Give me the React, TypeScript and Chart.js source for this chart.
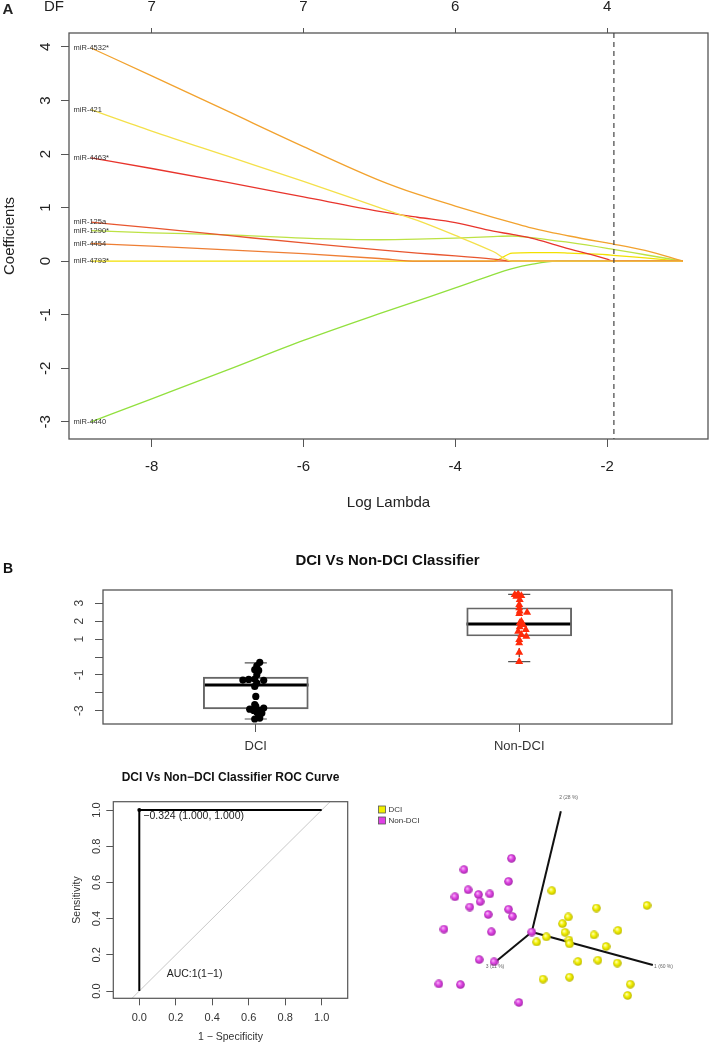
import React, { useEffect, useRef } from 'react';
import { Chart, registerables } from 'chart.js';

Chart.register(...registerables);

const FONT = '"Liberation Sans", Arial, Helvetica, sans-serif';

// ---------------- Panel A : lasso coefficient paths ----------------
const LOG_LAMBDA = [-8.8, -8, -7, -6, -5, -4.5, -4, -3.5, -3.25, -3, -2.67, -2.5, -2, -1.92, -1.5, -1.0];
const COEF_MIR4532 = [3.98, 3.46, 2.8, 2.14, 1.51, 1.25, 1.03, 0.82, 0.72, 0.62, 0.52, 0.47, 0.34, 0.32, 0.2, 0];
const COEF_MIR421 = [2.83, 2.43, 1.96, 1.49, 1.0, 0.76, 0.48, 0.18, 0, 0, 0, 0, 0, 0, 0, 0];
const COEF_MIR4463 = [1.93, 1.73, 1.47, 1.2, 0.93, 0.82, 0.72, 0.56, 0.5, 0.43, 0.3, 0.23, 0.04, 0, 0, 0];
const COEF_MIR125A = [0.73, 0.62, 0.48, 0.34, 0.21, 0.15, 0.1, 0.04, 0, 0, 0, 0, 0, 0, 0, 0];
const COEF_MIR1290 = [0.57, 0.53, 0.49, 0.43, 0.4, 0.41, 0.43, 0.46, 0.47, 0.44, 0.38, 0.35, 0.24, 0.22, 0.12, 0];
const COEF_MIR4454 = [0.33, 0.28, 0.21, 0.14, 0.05, 0, 0, 0, 0, 0, 0, 0, 0, 0, 0, 0];
const COEF_MIR4793 = [0, 0, 0, 0, 0, 0, 0, 0, 0.15, 0.16, 0.16, 0.15, 0.12, 0.11, 0.06, 0];
const COEF_MIR4440 = [-3.0, -2.57, -2.03, -1.48, -0.98, -0.74, -0.5, -0.25, -0.14, -0.06, 0, 0, 0, 0, 0, 0];
const MIR_NAMES = ['miR-4532*', 'miR-421', 'miR-4463*', 'miR-125a', 'miR-1290*', 'miR-4454', 'miR-4793*', 'miR-4440'];
const MIR_COLORS = ['#F2A22E', '#F4E04A', '#E8342C', '#E8552E', '#BDE244', '#EE7E34', '#F2E000', '#92E03E'];
const X_TICKS_A = [-8, -6, -4, -2];
const DF_LABELS = ['7', '7', '6', '4'];
const Y_TICKS_A = [-3, -2, -1, 0, 1, 2, 3, 4];
const LAMBDA_MIN_LOG = -1.91;

// ---------------- Panel B : classifier boxplot ----------------
const BOX_CATEGORIES = ['DCI', 'Non-DCI'];
const BOX_LOWER = [-3.46, -0.26];
const BOX_Q1 = [-2.9, 1.17];
const BOX_MEDIAN = [-1.56, 1.84];
const BOX_Q3 = [-1.12, 2.75];
const BOX_UPPER = [-0.33, 3.5];
const DCI_SCORES = [-0.3, -0.49, -0.71, -0.75, -0.99, -1.23, -1.29, -1.25, -1.3, -1.45, -1.64, -2.2, -2.66, -2.76, -2.91, -2.98, -2.85, -2.98, -3.09, -3.13, -3.32, -3.46, -3.41];
const DCI_JITTER = [0.015, 0.004, -0.004, 0.011, 0.004, -0.004, -0.049, -0.027, 0.03, 0.004, -0.004, 0, -0.004, 0, -0.023, -0.008, 0.03, 0.015, 0.004, 0.023, 0.011, -0.004, 0.015];
const NONDCI_SCORES = [3.48, 3.52, 3.42, 3.38, 3.2, 2.92, 2.74, 2.55, 2.49, 2.42, 1.99, 1.9, 1.8, 1.68, 1.53, 1.43, 1.25, 1.15, 0.97, 0.78, 0.26, -0.26];
const NONDCI_JITTER = [-0.017, -0.004, 0.008, -0.011, 0.002, 0, 0, 0.002, 0.03, 0, 0.008, 0.002, 0.015, 0.002, 0.025, -0.004, 0.008, 0.027, 0, 0, 0, 0];
const Y_TICKS_B = [-3, -2, -1, 0, 1, 2, 3];
const Y_LABELS_B = ['-3', '', '-1', '', '1', '2', '3'];

// ---------------- ROC curve ----------------
const ROC_FPR = [0, 0, 1];
const ROC_TPR = [0, 1, 1];
const BEST_FPR = 0;
const BEST_TPR = 1;
const BEST_THRESHOLD = '\u22120.324';
const AUC_TEXT = 'AUC:1(1\u22121)';
const ROC_TICKS = [0, 0.2, 0.4, 0.6, 0.8, 1.0];

// ---------------- PCA (projected 3D) ----------------
const PCA_DCI_X = [20.7, 119, 66.7, 37.7, 31.7, 34.3, 89, 64.3, 15, 5, 38.3, 39, 76.7, 47.7, 68.3, 88.3, 11.7, 39, 101.7, 99];
const PCA_DCI_Y = [43, 27.7, 25, 15.7, 8.7, -0.3, 1.7, -3, -5, -10.3, -8.3, -12.3, -15, -30.7, -29.3, -32.3, -49, -47, -54.3, -66];
const PCA_NON_X = [-21, -70, -24, -65.7, -43.3, -55, -79.3, -53.3, -64, -24, -20, -45, -90.7, -41.7, 0, -54.3, -39, -96, -73.7, -13.3];
const PCA_NON_Y = [76.7, 65, 52.7, 44, 39.7, 39, 36.7, 31.7, 26, 23.7, 16.3, 18.3, 3, 0.3, 0, -28.7, -31, -54, -54.7, -73.3];
const PCA_AXIS_END_X = [125, 30, -38.3];
const PCA_AXIS_END_Y = [-34.3, 125.7, -31.7];
const PCA_AXIS_LABELS = ['1 (60 %)', '2 (28 %)', '3 (11 %)'];
const PCA_LABEL_X = [136, 38, -38];
const PCA_LABEL_Y = [-36.5, 140, -36];

const baseOpts = {
  animation: false as const,
  responsive: false,
  devicePixelRatio: 1,
  events: [] as any[],
};

function rotatedText(ctx: CanvasRenderingContext2D, text: string, x: number, y: number) {
  ctx.save();
  ctx.translate(x, y);
  ctx.rotate(-Math.PI / 2);
  ctx.fillText(text, 0, 0);
  ctx.restore();
}

function makeLasso(canvas: HTMLCanvasElement) {
  const series = [COEF_MIR4532, COEF_MIR421, COEF_MIR4463, COEF_MIR125A, COEF_MIR1290, COEF_MIR4454, COEF_MIR4793, COEF_MIR4440];
  const datasets = series.map((s, k) => ({
    label: MIR_NAMES[k],
    data: LOG_LAMBDA.map((x, i) => ({ x, y: s[i] })),
    borderColor: MIR_COLORS[k],
    borderWidth: 1.3,
    pointRadius: 0,
    cubicInterpolationMode: 'monotone' as const,
    fill: false,
  }));
  const plugin = {
    id: 'lassoDecor',
    afterDraw(chart: any) {
      const { ctx, chartArea: ca, scales } = chart;
      const xs = scales.x;
      const ys = scales.y;
      ctx.save();
      ctx.strokeStyle = '#555';
      ctx.lineWidth = 1.3;
      ctx.strokeRect(ca.left, ca.top, ca.right - ca.left, ca.bottom - ca.top);
      const xd = xs.getPixelForValue(LAMBDA_MIN_LOG);
      ctx.strokeStyle = '#444';
      ctx.lineWidth = 1.2;
      ctx.setLineDash([5, 4]);
      ctx.beginPath();
      ctx.moveTo(xd, ca.top);
      ctx.lineTo(xd, ca.bottom);
      ctx.stroke();
      ctx.setLineDash([]);
      ctx.fillStyle = '#222';
      ctx.font = `15px ${FONT}`;
      ctx.textAlign = 'center';
      ctx.textBaseline = 'middle';
      for (const t of ys.ticks) {
        rotatedText(ctx, String(t.value), ca.left - 23, ys.getPixelForValue(t.value));
      }
      rotatedText(ctx, 'Coefficients', 10, (ca.top + ca.bottom) / 2);
      ctx.fillText('Log Lambda', (ca.left + ca.right) / 2, 503);
      ctx.fillText('DF', 54, 7);
      ctx.font = `bold 15px ${FONT}`;
      ctx.fillText('A', 8, 10);
      ctx.font = `7.5px ${FONT}`;
      ctx.textAlign = 'left';
      ctx.fillStyle = '#333';
      series.forEach((s, k) => {
        ctx.fillText(MIR_NAMES[k], xs.getPixelForValue(-9.03), ys.getPixelForValue(s[0]));
      });
      ctx.restore();
    },
  };
  const tickGrid = { drawOnChartArea: false, drawTicks: true, tickLength: 8, color: '#555', lineWidth: 1, offset: false };
  return new Chart(canvas, {
    type: 'line',
    data: { datasets },
    options: {
      ...baseOpts,
      layout: { padding: { left: 0, right: 1, top: 0, bottom: 0 } },
      plugins: { legend: { display: false }, tooltip: { enabled: false } },
      scales: {
        x: {
          type: 'linear', position: 'bottom', min: -9.09, max: -0.67,
          afterBuildTicks: (s: any) => { s.ticks = X_TICKS_A.map((v) => ({ value: v })); },
          afterFit: (s: any) => { s.height = 86; },
          grid: tickGrid,
          border: { display: false },
          ticks: { color: '#222', font: { family: FONT, size: 15 }, padding: 11, maxRotation: 0, autoSkip: false },
        },
        xTop: {
          type: 'linear', position: 'top', min: -9.09, max: -0.67,
          afterBuildTicks: (s: any) => { s.ticks = X_TICKS_A.map((v) => ({ value: v })); },
          afterFit: (s: any) => { s.height = 33; },
          grid: { ...tickGrid, tickLength: 5 },
          border: { display: false },
          ticks: {
            color: '#222', font: { family: FONT, size: 15 }, padding: 12, maxRotation: 0, autoSkip: false,
            callback: (v: any) => DF_LABELS[X_TICKS_A.indexOf(Number(v))] ?? '',
          },
        },
        y: {
          type: 'linear', position: 'left', min: -3.32, max: 4.26,
          afterBuildTicks: (s: any) => { s.ticks = Y_TICKS_A.map((v) => ({ value: v })); },
          afterFit: (s: any) => { s.width = 69; },
          grid: tickGrid,
          border: { display: false },
          ticks: { display: false },
        },
      },
    } as any,
    plugins: [plugin],
  });
}

function makeBox(canvas: HTMLCanvasElement) {
  const plugin = {
    id: 'boxDecor',
    beforeDatasetsDraw(chart: any) {
      const { ctx, scales } = chart;
      const xs = scales.x;
      const ys = scales.y;
      ctx.save();
      BOX_CATEGORIES.forEach((_, i) => {
        const pos = i + 1;
        const xc = xs.getPixelForValue(pos);
        const cap = xs.getPixelForValue(pos + 0.042) - xc;
        const half = xs.getPixelForValue(pos + 0.2) - xc;
        ctx.strokeStyle = '#111';
        ctx.lineWidth = 1;
        ctx.setLineDash([3, 3]);
        ctx.beginPath();
        ctx.moveTo(xc, ys.getPixelForValue(BOX_Q3[i]));
        ctx.lineTo(xc, ys.getPixelForValue(BOX_UPPER[i]));
        ctx.moveTo(xc, ys.getPixelForValue(BOX_Q1[i]));
        ctx.lineTo(xc, ys.getPixelForValue(BOX_LOWER[i]));
        ctx.stroke();
        ctx.setLineDash([]);
        ctx.strokeStyle = '#555';
        ctx.lineWidth = 1.2;
        ctx.beginPath();
        ctx.moveTo(xc - cap, ys.getPixelForValue(BOX_UPPER[i]));
        ctx.lineTo(xc + cap, ys.getPixelForValue(BOX_UPPER[i]));
        ctx.moveTo(xc - cap, ys.getPixelForValue(BOX_LOWER[i]));
        ctx.lineTo(xc + cap, ys.getPixelForValue(BOX_LOWER[i]));
        ctx.stroke();
        ctx.strokeStyle = '#000';
        ctx.lineWidth = 3;
        ctx.beginPath();
        ctx.moveTo(xc - half, ys.getPixelForValue(BOX_MEDIAN[i]));
        ctx.lineTo(xc + half, ys.getPixelForValue(BOX_MEDIAN[i]));
        ctx.stroke();
      });
      ctx.restore();
    },
    afterDraw(chart: any) {
      const { ctx, chartArea: ca, scales } = chart;
      const ys = scales.y;
      ctx.save();
      ctx.strokeStyle = '#555';
      ctx.lineWidth = 1.3;
      ctx.strokeRect(ca.left, ca.top, ca.right - ca.left, ca.bottom - ca.top);
      ctx.fillStyle = '#444';
      ctx.font = `12px ${FONT}`;
      ctx.textAlign = 'center';
      ctx.textBaseline = 'middle';
      Y_TICKS_B.forEach((v, i) => {
        if (Y_LABELS_B[i]) rotatedText(ctx, Y_LABELS_B[i], ca.left - 23, ys.getPixelForValue(v));
      });
      ctx.fillStyle = '#111';
      ctx.font = `bold 15px ${FONT}`;
      ctx.fillText('DCI Vs Non-DCI Classifier', (ca.left + ca.right) / 2, 21);
      ctx.font = `bold 14px ${FONT}`;
      ctx.fillText('B', 8, 29);
      ctx.restore();
    },
  };
  const tickGrid = { drawOnChartArea: false, drawTicks: true, tickLength: 8, color: '#555', lineWidth: 1, offset: false };
  return new Chart(canvas, {
    type: 'scatter',
    data: {
      datasets: [
        {
          type: 'scatter',
          label: 'DCI',
          data: DCI_SCORES.map((v, i) => ({ x: 1 + DCI_JITTER[i], y: v })),
          pointStyle: 'circle',
          pointRadius: 3.6,
          backgroundColor: '#000',
          borderColor: '#000',
          borderWidth: 0,
          order: 0,
        },
        {
          type: 'scatter',
          label: 'Non-DCI',
          data: NONDCI_SCORES.map((v, i) => ({ x: 2 + NONDCI_JITTER[i], y: v })),
          pointStyle: 'triangle',
          pointRadius: 4.6,
          backgroundColor: '#FF2A0A',
          borderColor: '#FF2A0A',
          borderWidth: 0,
          order: 0,
        },
        {
          type: 'bar',
          label: 'box',
          data: BOX_CATEGORIES.map((_, i) => ({ x: i + 1, y: [BOX_Q1[i], BOX_Q3[i]] })),
          backgroundColor: 'rgba(255,255,255,0)',
          borderColor: '#666',
          borderWidth: 1.3,
          borderSkipped: false,
          barThickness: 105,
          order: 5,
        },
      ],
    } as any,
    options: {
      ...baseOpts,
      layout: { padding: { left: 0, right: 37, top: 50, bottom: 0 } },
      plugins: { legend: { display: false }, tooltip: { enabled: false } },
      scales: {
        x: {
          type: 'linear', position: 'bottom', min: 0.42, max: 2.58, offset: false,
          afterBuildTicks: (s: any) => { s.ticks = BOX_CATEGORIES.map((_, i) => ({ value: i + 1 })); },
          afterFit: (s: any) => { s.height = 36; },
          grid: tickGrid,
          border: { display: false },
          ticks: {
            color: '#333', font: { family: FONT, size: 13 }, padding: 7, maxRotation: 0, autoSkip: false,
            callback: (v: any) => BOX_CATEGORIES[Number(v) - 1] ?? '',
          },
        },
        y: {
          type: 'linear', position: 'left', min: -3.74, max: 3.74,
          afterBuildTicks: (s: any) => { s.ticks = Y_TICKS_B.map((v) => ({ value: v })); },
          afterFit: (s: any) => { s.width = 103; },
          grid: tickGrid,
          border: { display: false },
          ticks: { display: false },
        },
      },
    } as any,
    plugins: [plugin],
  });
}

function makeRoc(canvas: HTMLCanvasElement) {
  const plugin = {
    id: 'rocDecor',
    afterDraw(chart: any) {
      const { ctx, chartArea: ca, scales } = chart;
      const xs = scales.x;
      const ys = scales.y;
      ctx.save();
      ctx.strokeStyle = '#555';
      ctx.lineWidth = 1.2;
      ctx.strokeRect(ca.left, ca.top, ca.right - ca.left, ca.bottom - ca.top);
      ctx.fillStyle = '#333';
      ctx.font = `11px ${FONT}`;
      ctx.textAlign = 'center';
      ctx.textBaseline = 'middle';
      for (const t of ys.ticks) {
        rotatedText(ctx, Number(t.value).toFixed(1), ca.left - 16, ys.getPixelForValue(t.value));
      }
      ctx.font = `10.5px ${FONT}`;
      rotatedText(ctx, 'Sensitivity', ca.left - 36, (ca.top + ca.bottom) / 2);
      ctx.fillText('1 \u2212 Specificity', (ca.left + ca.right) / 2, 277);
      ctx.font = `bold 12px ${FONT}`;
      ctx.fillStyle = '#111';
      ctx.fillText('DCI Vs Non\u2212DCI Classifier ROC Curve', (ca.left + ca.right) / 2, 18);
      ctx.font = `10.5px ${FONT}`;
      ctx.textAlign = 'left';
      ctx.fillStyle = '#222';
      ctx.fillText(`${BEST_THRESHOLD} (${(1 - BEST_FPR).toFixed(3)}, ${BEST_TPR.toFixed(3)})`, xs.getPixelForValue(0.022), ys.getPixelForValue(0.967));
      ctx.fillText(AUC_TEXT, xs.getPixelForValue(0.15), ys.getPixelForValue(0.096));
      ctx.restore();
    },
  };
  const tickGrid = { drawOnChartArea: false, drawTicks: true, tickLength: 7, color: '#555', lineWidth: 1, offset: false };
  return new Chart(canvas, {
    type: 'scatter',
    data: {
      datasets: [
        {
          label: 'best',
          data: [{ x: BEST_FPR, y: BEST_TPR }],
          pointRadius: 2,
          backgroundColor: '#000',
          borderWidth: 0,
          showLine: false,
        },
        {
          label: 'roc',
          data: ROC_FPR.map((x, i) => ({ x, y: ROC_TPR[i] })),
          showLine: true,
          borderColor: '#000',
          borderWidth: 2,
          pointRadius: 0,
          tension: 0,
        },
        {
          label: 'chance',
          data: [{ x: -0.2, y: -0.2 }, { x: 1.2, y: 1.2 }],
          showLine: true,
          borderColor: '#C8C8C8',
          borderWidth: 1,
          pointRadius: 0,
        },
      ],
    } as any,
    options: {
      ...baseOpts,
      layout: { padding: { left: 0, right: 12.3, top: 41.7, bottom: 0 } },
      plugins: { legend: { display: false }, tooltip: { enabled: false } },
      scales: {
        x: {
          type: 'linear', position: 'bottom', min: -0.1425, max: 1.1425,
          afterBuildTicks: (s: any) => { s.ticks = ROC_TICKS.map((v) => ({ value: v })); },
          afterFit: (s: any) => { s.height = 43.7; },
          grid: tickGrid,
          border: { display: false },
          ticks: {
            color: '#333', font: { family: FONT, size: 11 }, padding: 6, maxRotation: 0, autoSkip: false,
            callback: (v: any) => Number(v).toFixed(1),
          },
        },
        y: {
          type: 'linear', position: 'left', min: -0.04, max: 1.046,
          afterBuildTicks: (s: any) => { s.ticks = ROC_TICKS.map((v) => ({ value: v })); },
          afterFit: (s: any) => { s.width = 113.3; },
          grid: tickGrid,
          border: { display: false },
          ticks: { display: false },
        },
      },
    } as any,
    plugins: [plugin],
  });
}

function sphere(light: string, base: string, dark: string, d: number) {
  const c = document.createElement('canvas');
  c.width = d;
  c.height = d;
  const g = c.getContext('2d')!;
  const r = d / 2;
  const grad = g.createRadialGradient(r * 0.75, r * 0.7, r * 0.1, r, r, r);
  grad.addColorStop(0, light);
  grad.addColorStop(0.45, base);
  grad.addColorStop(1, dark);
  g.fillStyle = grad;
  g.beginPath();
  g.arc(r, r, r - 0.2, 0, Math.PI * 2);
  g.fill();
  return c;
}

function makePca(canvas: HTMLCanvasElement) {
  const yellowBall = sphere('#FFFFB0', '#F2F000', '#B8B400', 9);
  const magentaBall = sphere('#F8B0F8', '#DE42E2', '#A02AA6', 9);
  const plugin = {
    id: 'pcaDecor',
    afterDraw(chart: any) {
      const { ctx, scales } = chart;
      const xs = scales.x;
      const ys = scales.y;
      ctx.save();
      ctx.fillStyle = '#666';
      ctx.font = `5px ${FONT}`;
      ctx.textAlign = 'center';
      ctx.textBaseline = 'middle';
      PCA_AXIS_LABELS.forEach((t, i) => {
        ctx.fillText(t, xs.getPixelForValue(PCA_LABEL_X[i]), ys.getPixelForValue(PCA_LABEL_Y[i]));
      });
      const items = [
        { label: 'DCI', color: '#F2F000' },
        { label: 'Non-DCI', color: '#E040E6' },
      ];
      ctx.font = `8px ${FONT}`;
      ctx.textAlign = 'left';
      items.forEach((it, i) => {
        const y = 46 + i * 11;
        ctx.fillStyle = it.color;
        ctx.fillRect(18.5, y, 7, 7);
        ctx.strokeStyle = '#555';
        ctx.lineWidth = 0.8;
        ctx.strokeRect(18.5, y, 7, 7);
        ctx.fillStyle = '#333';
        ctx.fillText(it.label, 28.5, y + 3.8);
      });
      ctx.restore();
    },
  };
  const axisSets = PCA_AXIS_END_X.map((x, i) => ({
    label: PCA_AXIS_LABELS[i],
    data: [{ x: 0, y: 0 }, { x, y: PCA_AXIS_END_Y[i] }],
    showLine: true,
    borderColor: '#111',
    borderWidth: 2,
    pointRadius: 0,
    order: 5,
  }));
  return new Chart(canvas, {
    type: 'scatter',
    data: {
      datasets: [
        {
          label: 'Non-DCI',
          data: PCA_NON_X.map((x, i) => ({ x, y: PCA_NON_Y[i] })),
          pointStyle: magentaBall,
          pointRadius: 4.5,
          order: 0,
        },
        {
          label: 'DCI',
          data: PCA_DCI_X.map((x, i) => ({ x, y: PCA_DCI_Y[i] })),
          pointStyle: yellowBall,
          pointRadius: 4.5,
          order: 1,
        },
        ...axisSets,
      ],
    } as any,
    options: {
      ...baseOpts,
      layout: { padding: 0 },
      plugins: { legend: { display: false }, tooltip: { enabled: false } },
      scales: {
        x: { type: 'linear', display: false, min: -171.7, max: 177.3 },
        y: { type: 'linear', display: false, min: -108.7, max: 173.3 },
      },
    } as any,
    plugins: [plugin],
  });
}

export default function App() {
  const lassoRef = useRef<HTMLCanvasElement>(null);
  const boxRef = useRef<HTMLCanvasElement>(null);
  const rocRef = useRef<HTMLCanvasElement>(null);
  const pcaRef = useRef<HTMLCanvasElement>(null);

  useEffect(() => {
    const charts = [
      makeLasso(lassoRef.current!),
      makeBox(boxRef.current!),
      makeRoc(rocRef.current!),
      makePca(pcaRef.current!),
    ];
    return () => charts.forEach((c) => c.destroy());
  }, []);

  const abs = (left: number, top: number): React.CSSProperties => ({ position: 'absolute', left, top, display: 'block' });

  return (
    <div style={{ position: 'absolute', left: 0, top: 0, width: 709, height: 1042, background: '#fff', overflow: 'hidden' }}>
      <canvas ref={lassoRef} width={709} height={525} style={abs(0, 0)} />
      <canvas ref={boxRef} width={709} height={220} style={abs(0, 540)} />
      <canvas ref={rocRef} width={360} height={282} style={abs(0, 760)} />
      <canvas ref={pcaRef} width={349} height={282} style={abs(360, 760)} />
    </div>
  );
}
